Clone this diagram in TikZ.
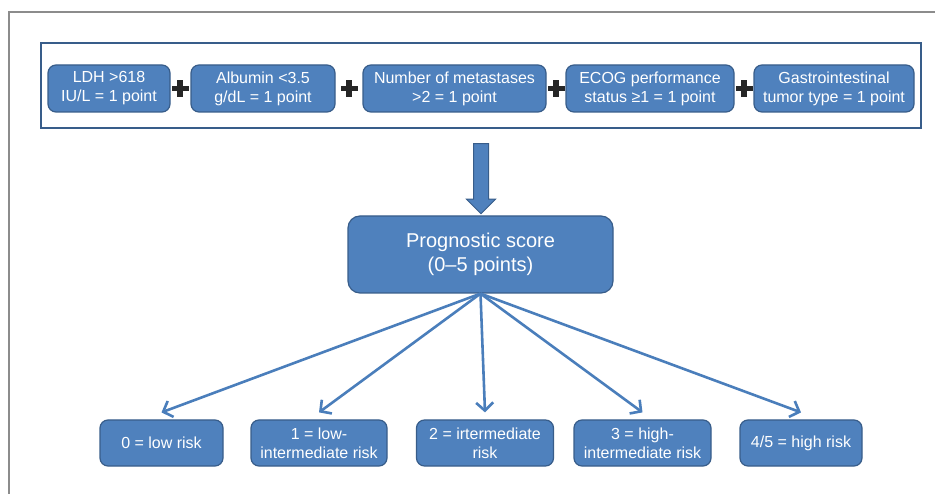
\documentclass[tikz,border=0pt]{standalone}
\usepackage{fontspec}
\setmainfont{Liberation Sans}
\usetikzlibrary{arrows.meta,shapes.arrows}
\definecolor{boxblue}{RGB}{79,129,189}
\definecolor{boxline}{RGB}{56,93,138}
\definecolor{arrowblue}{RGB}{74,126,187}

\begin{document}
\begin{tikzpicture}[
    x=1pt,y=-1pt,
    crit/.style={draw=boxline,fill=boxblue,rounded corners=8pt,line width=1.2pt,text=white,align=center,inner sep=0pt,minimum height=47pt,font=\fontsize{16}{19}\selectfont},
    risk/.style={crit,minimum height=46pt},
    score/.style={crit,rounded corners=12pt,font=\fontsize{20}{24}\selectfont},
    link/.style={arrowblue,line width=2.6pt,-{Straight Barb[length=8pt,width=17pt]}}
    ]
    \useasboundingbox (0,0) rectangle (935,494);
    \draw[gray!90,line width=2pt] (9,494) -- (9,12) -- (935,12);
    % criteria panel
    \node[draw=boxline,line width=2pt,minimum width=880pt,minimum height=85pt,inner sep=0pt] (panel) at (481,85.5) {};
    \node[crit,minimum width=122pt] (ldh) at (109,88.5) {LDH >618\\IU/L = 1 point};
    \node[crit,minimum width=144pt] (alb) at (263,88.5) {Albumin <3.5\\g/dL = 1 point};
    \node[crit,minimum width=183pt] (mets) at (454.5,88.5) {Number of metastases\\>2 = 1 point};
    \node[crit,minimum width=168pt] (ecog) at (650,88.5) {ECOG performance\\status ≥1 = 1 point};
    \node[crit,minimum width=160pt] (gi) at (834,88.5) {Gastrointestinal\\tumor type = 1 point};
    \foreach \x in {180,349,556,744} {
        \fill[black!85] (\x-8.5,85.75) rectangle (\x+8.5,91.25);
        \fill[black!85] (\x-2.75,80) rectangle (\x+2.75,97);
    }
    % score
    \node[single arrow,draw=boxline,fill=boxblue,line width=1pt,shape border rotate=270,
        minimum height=70pt,inner sep=7pt,single arrow head extend=7pt] (down) at (481,175) {};
    \node[score,minimum width=265pt,minimum height=77pt] (prog) at (480.5,254.5) {Prognostic score\\(0–5 points)};
    % risk groups
    \node[risk,minimum width=123pt] (b0) at (161.5,443) {0 = low risk};
    \node[risk,minimum width=136pt] (b1) at (319,443) {1 = low-\\intermediate risk};
    \node[risk,minimum width=137pt] (b2) at (485,443) {2 = irtermediate\\risk};
    \node[risk,minimum width=137pt] (b3) at (642.5,443) {3 = high-\\intermediate risk};
    \node[risk,minimum width=122pt] (b4) at (801,443) {4/5 = high risk};
    \foreach \b in {b0,b1,b2,b3,b4}
        \draw[link] (prog.south) -- ([yshift=7pt]\b.north);
  \end{tikzpicture}
\end{document}
